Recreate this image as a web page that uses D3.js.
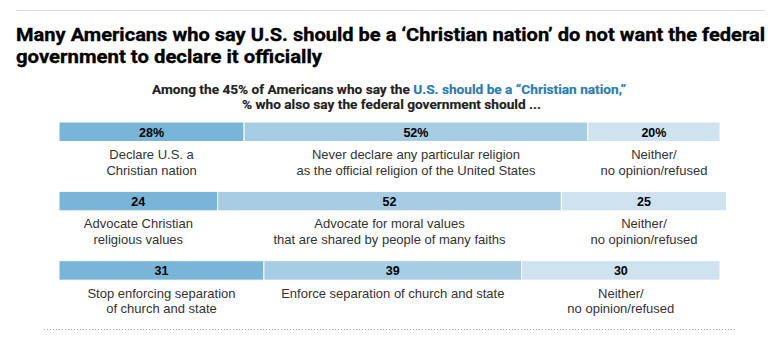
<!DOCTYPE html>
<html>
<head>
<meta charset="utf-8">
<script src="https://cdn.jsdelivr.net/npm/d3@7"></script>
<style>
  html, body { margin: 0; padding: 0; background: #fff; }
  svg { display: block; }
  .title { font-family: Roboto, "Liberation Sans", sans-serif; font-weight: bold; font-size: 19px; fill: #000; stroke: #000; stroke-width: 0.35px; }
  .sub { font-family: Roboto, "Liberation Sans", sans-serif; font-weight: bold; font-size: 12.5px; fill: #222; stroke: #222; stroke-width: 0.15px; }
  .val { font-family: "Liberation Sans", Arial, sans-serif; font-weight: bold; font-size: 12.5px; fill: #000; }
  .lab { font-family: "Liberation Sans", Arial, sans-serif; font-size: 13px; fill: #333; }
</style>
</head>
<body>
<svg id="chart" width="780" height="342"></svg>
<script>
const rows = ["row1", "row2", "row3"];
const values = [
  [28, 52, 20],
  [24, 52, 25],
  [31, 39, 30]
];
const valueLabels = [
  ["28%", "52%", "20%"],
  ["24", "52", "25"],
  ["31", "39", "30"]
];
const segmentLabels = [
  [["Declare U.S. a", "Christian nation"], ["Never declare any particular religion", "as the official religion of the United States"], ["Neither/", "no opinion/refused"]],
  [["Advocate Christian", "religious values"], ["Advocate for moral values", "that are shared by people of many faiths"], ["Neither/", "no opinion/refused"]],
  [["Stop enforcing separation", "of church and state"], ["Enforce separation of church and state"], ["Neither/", "no opinion/refused"]]
];
const colors = ["#78b5d6", "#a6cde3", "#cee2f0"];
const titleLines = [
  "Many Americans who say U.S. should be a \u2018Christian nation\u2019 do not want the federal",
  "government to declare it officially"
];

const svg = d3.select("#chart");

// top rule
svg.append("line").attr("x1", 16).attr("x2", 765).attr("y1", 10.5).attr("y2", 10.5)
  .attr("stroke", "#dcdcdc").attr("stroke-width", 1);

// title (condensed to the reference widths)
svg.append("text").attr("class", "title").attr("x", 16).attr("y", 41).text(titleLines[0])
  .attr("textLength", 749).attr("lengthAdjust", "spacingAndGlyphs");
svg.append("text").attr("class", "title").attr("x", 16).attr("y", 63).text(titleLines[1])
  .attr("textLength", 306).attr("lengthAdjust", "spacingAndGlyphs");

// subtitle
const s1 = svg.append("text").attr("class", "sub").attr("x", 152).attr("y", 94);
s1.append("tspan").text("Among the 45% of Americans who say the ");
s1.append("tspan").attr("fill", "#2b7bb1").attr("stroke", "#2b7bb1").text("U.S. should be a \u201cChristian nation,\u201d");
const s2 = svg.append("text").attr("class", "sub").attr("x", 242).attr("y", 109)
  .text("% who also say the federal government should ...");
const sw1 = s1.node().getComputedTextLength();
const sw2 = s2.node().getComputedTextLength();
const sf = 474 / sw1;
s1.attr("textLength", 474).attr("lengthAdjust", "spacingAndGlyphs");
s2.attr("textLength", sw2 * sf).attr("lengthAdjust", "spacingAndGlyphs");

const x = d3.scaleLinear().domain([0, 100]).range([59, 720]);
const y = d3.scaleBand().domain(rows).range([122, 330]).paddingInner(0).paddingOuter(0);
const barH = 19.5;

rows.forEach((r, i) => {
  let cum = 0;
  const g = svg.append("g");
  values[i].forEach((v, j) => {
    const x0 = x(cum), x1 = x(cum + v);
    const y0 = y(r);
    g.append("rect").attr("x", x0).attr("y", y0).attr("width", x1 - x0).attr("height", barH)
      .attr("fill", colors[j]).attr("stroke", "#fff").attr("stroke-width", 1);
    const cx = (x0 + x1) / 2;
    g.append("text").attr("class", "val").attr("x", cx).attr("y", y0 + 14.5)
      .attr("text-anchor", "middle").text(valueLabels[i][j]);
    segmentLabels[i][j].forEach((line, k) => {
      g.append("text").attr("class", "lab").attr("x", cx).attr("y", y0 + 37 + k * 15.5)
        .attr("text-anchor", "middle").text(line);
    });
    cum += v;
  });
});

// bottom dotted rule
svg.append("line").attr("x1", 44).attr("x2", 735).attr("y1", 329.5).attr("y2", 329.5)
  .attr("stroke", "#aaa").attr("stroke-width", 1).attr("stroke-dasharray", "1,2");
</script>
</body>
</html>
